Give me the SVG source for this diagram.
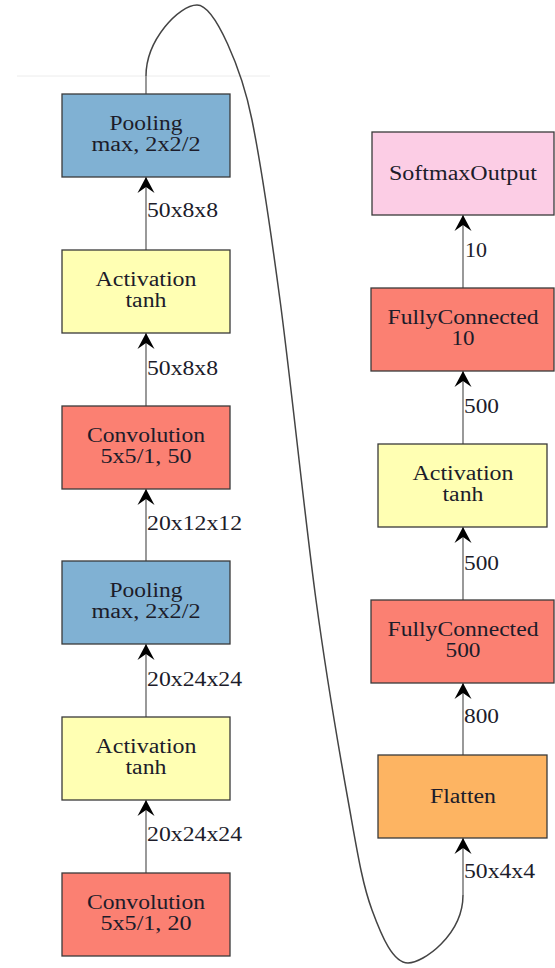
<svg xmlns="http://www.w3.org/2000/svg" width="555" height="968" viewBox="0 0 555 968">
<style>
.box{stroke:#3a3a3a;stroke-width:1.3}
.pool{fill:#80b1d3}
.act{fill:#ffffb3}
.conv{fill:#fb8072}
.soft{fill:#fccde5}
.flat{fill:#fdb462}
text{font-family:"Liberation Serif","Times New Roman",serif;font-size:20px;fill:#1c1c2a}
.t{text-anchor:middle}
.edge{stroke:#808080;stroke-width:1.6;fill:none}
.curve{stroke:#444;stroke-width:1.5;fill:none}
</style>
<defs>
<marker id="arr" markerUnits="userSpaceOnUse" markerWidth="20" markerHeight="20" viewBox="-17 -10 18 20" refX="0" refY="0" orient="auto">
<path d="M0,0 L-16,-8.5 L-10,0 L-16,8.5 Z" fill="#000"/>
</marker>
</defs>
<line x1="17" y1="76" x2="270" y2="76" stroke="#ececec" stroke-width="1"/>
<g id="connectors">
<line class="edge" x1="146" y1="873" x2="146" y2="800" marker-end="url(#arr)"/>
<text x="147" y="841" textLength="95" lengthAdjust="spacingAndGlyphs">20x24x24</text>
<line class="edge" x1="146" y1="717" x2="146" y2="644" marker-end="url(#arr)"/>
<text x="147" y="686" textLength="95" lengthAdjust="spacingAndGlyphs">20x24x24</text>
<line class="edge" x1="146" y1="561" x2="146" y2="489" marker-end="url(#arr)"/>
<text x="147" y="530" textLength="95" lengthAdjust="spacingAndGlyphs">20x12x12</text>
<line class="edge" x1="146" y1="406" x2="146" y2="333" marker-end="url(#arr)"/>
<text x="147" y="375" textLength="71" lengthAdjust="spacingAndGlyphs">50x8x8</text>
<line class="edge" x1="146" y1="250" x2="146" y2="177" marker-end="url(#arr)"/>
<text x="147" y="217" textLength="71" lengthAdjust="spacingAndGlyphs">50x8x8</text>
<line class="edge" x1="463" y1="755" x2="463" y2="683" marker-end="url(#arr)"/>
<text x="464" y="723" textLength="35" lengthAdjust="spacingAndGlyphs">800</text>
<line class="edge" x1="463" y1="600" x2="463" y2="527" marker-end="url(#arr)"/>
<text x="464" y="570" textLength="35" lengthAdjust="spacingAndGlyphs">500</text>
<line class="edge" x1="463" y1="444" x2="463" y2="371" marker-end="url(#arr)"/>
<text x="464" y="413" textLength="35" lengthAdjust="spacingAndGlyphs">500</text>
<line class="edge" x1="463" y1="288" x2="463" y2="215" marker-end="url(#arr)"/>
<text x="465" y="257" textLength="22" lengthAdjust="spacingAndGlyphs">10</text>
<path class="edge" d="M146,94 L146,76"/>
<path class="curve" d="M146,76 C146,40 179,5 197,5 C215,5 242,70 252,120 C262,170 269.3,220 280,300 C290.7,380 304.7,516.7 316,600 C327.3,683.3 338.7,748.3 348,800 C357.3,851.7 362,882.8 372,910 C382,937.2 393,963 408,963 C423,963 463,935 463,895"/>
<path class="edge" d="M463,895 L463,838" marker-end="url(#arr)"/>
<text x="464" y="878" textLength="71" lengthAdjust="spacingAndGlyphs">50x4x4</text>
</g>
<g id="pool1">
<rect class="box pool" x="62" y="94" width="168" height="83"/>
<text class="t" x="146" y="130" textLength="73" lengthAdjust="spacingAndGlyphs">Pooling</text>
<text class="t" x="146" y="151" textLength="109" lengthAdjust="spacingAndGlyphs">max, 2x2/2</text>
</g>
<g id="act1">
<rect class="box act" x="62" y="250" width="168" height="83"/>
<text class="t" x="146" y="286" textLength="101" lengthAdjust="spacingAndGlyphs">Activation</text>
<text class="t" x="146" y="307" textLength="41" lengthAdjust="spacingAndGlyphs">tanh</text>
</g>
<g id="conv2">
<rect class="box conv" x="62" y="406" width="168" height="83"/>
<text class="t" x="146" y="442" textLength="118" lengthAdjust="spacingAndGlyphs">Convolution</text>
<text class="t" x="146" y="463" textLength="91" lengthAdjust="spacingAndGlyphs">5x5/1, 50</text>
</g>
<g id="pool0">
<rect class="box pool" x="62" y="561" width="168" height="83"/>
<text class="t" x="146" y="597" textLength="73" lengthAdjust="spacingAndGlyphs">Pooling</text>
<text class="t" x="146" y="618" textLength="109" lengthAdjust="spacingAndGlyphs">max, 2x2/2</text>
</g>
<g id="act0">
<rect class="box act" x="62" y="717" width="168" height="83"/>
<text class="t" x="146" y="753" textLength="101" lengthAdjust="spacingAndGlyphs">Activation</text>
<text class="t" x="146" y="774" textLength="41" lengthAdjust="spacingAndGlyphs">tanh</text>
</g>
<g id="conv1">
<rect class="box conv" x="62" y="873" width="168" height="83"/>
<text class="t" x="146" y="909" textLength="118" lengthAdjust="spacingAndGlyphs">Convolution</text>
<text class="t" x="146" y="930" textLength="91" lengthAdjust="spacingAndGlyphs">5x5/1, 20</text>
</g>
<g id="softmax">
<rect class="box soft" x="372" y="132" width="182" height="83"/>
<text class="t" x="463" y="180" textLength="148" lengthAdjust="spacingAndGlyphs">SoftmaxOutput</text>
</g>
<g id="fc2">
<rect class="box conv" x="371" y="288" width="183" height="83"/>
<text class="t" x="463" y="324" textLength="151" lengthAdjust="spacingAndGlyphs">FullyConnected</text>
<text class="t" x="463" y="345" textLength="23" lengthAdjust="spacingAndGlyphs">10</text>
</g>
<g id="act2">
<rect class="box act" x="378" y="444" width="169" height="83"/>
<text class="t" x="463" y="480" textLength="101" lengthAdjust="spacingAndGlyphs">Activation</text>
<text class="t" x="463" y="501" textLength="41" lengthAdjust="spacingAndGlyphs">tanh</text>
</g>
<g id="fc1">
<rect class="box conv" x="371" y="600" width="183" height="83"/>
<text class="t" x="463" y="636" textLength="151" lengthAdjust="spacingAndGlyphs">FullyConnected</text>
<text class="t" x="463" y="657" textLength="35" lengthAdjust="spacingAndGlyphs">500</text>
</g>
<g id="flatten">
<rect class="box flat" x="378" y="755" width="169" height="83"/>
<text class="t" x="463" y="803" textLength="66" lengthAdjust="spacingAndGlyphs">Flatten</text>
</g>
</svg>
